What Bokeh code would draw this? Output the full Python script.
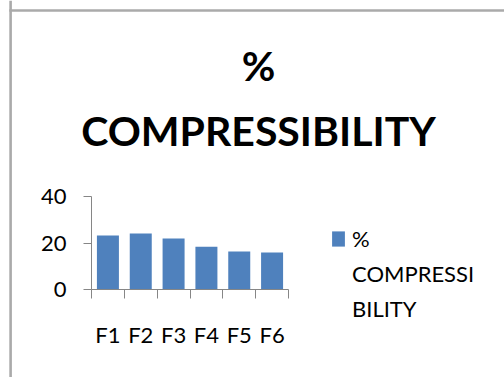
from bokeh.plotting import figure
from bokeh.models import (Range1d, FixedTicker, Legend, LegendItem, Label, BoxAnnotation, Span)
from bokeh.embed import file_html
from bokeh.resources import INLINE

categories = ["F1", "F2", "F3", "F4", "F5", "F6"]
values = [23.2, 24.1, 21.9, 18.4, 16.3, 15.9]
y_ticks = [0, 20, 40]
title_lines = ["%", "COMPRESSIBILITY"]
legend_lines = ["%", "COMPRESSI", "BILITY"]

FONT = "Lato"
BAR = "#4F81BD"
AXIS = "#868686"
FRAME = "#AAAAAA"

W, H = 504, 377
X0PX, XSCALE = 91, 197 / 6      # pixel of x=0, pixels per category
Y0PX, YSCALE = 289, 93 / 40     # pixel of y=0, pixels per unit

p = figure(width=W, height=H, output_backend="svg", toolbar_location=None,
           x_range=Range1d(-X0PX / XSCALE, (W - X0PX) / XSCALE),
           y_range=Range1d(-(H - Y0PX) / YSCALE, Y0PX / YSCALE),
           min_border_left=0, min_border_right=0, min_border_top=0, min_border_bottom=0,
           title=None)
p.outline_line_color = None
p.grid.grid_line_color = None
p.background_fill_color = "white"
p.border_fill_color = "white"

xs = [i + 0.5 for i in range(len(categories))]
r = p.vbar(x=xs, top=values, width=0.67, fill_color=BAR, line_color=None)
blank = p.vbar(x=[], top=[], width=0.67, fill_alpha=0, line_alpha=0)

xa = p.xaxis[0]
xa.fixed_location = 0
xa.bounds = (0, len(categories))
xa.ticker = FixedTicker(ticks=xs, minor_ticks=list(range(len(categories) + 1)))
xa.major_label_overrides = {x: c for x, c in zip(xs, categories)}
xa.major_tick_line_color = None
xa.major_tick_out = 0
xa.major_tick_in = 0
xa.minor_tick_line_color = AXIS
xa.minor_tick_out = 9
xa.minor_tick_in = 0
xa.axis_line_color = AXIS
xa.major_label_standoff = 22
xa.major_label_text_font = FONT
xa.major_label_text_font_size = "22px"
xa.major_label_text_color = "black"

ya = p.yaxis[0]
ya.fixed_location = 0
ya.bounds = (0, 40)
ya.ticker = FixedTicker(ticks=y_ticks, minor_ticks=[])
ya.major_tick_line_color = AXIS
ya.major_tick_out = 8
ya.major_tick_in = 0
ya.axis_line_color = AXIS
ya.major_label_standoff = 17
ya.major_label_text_font = FONT
ya.major_label_text_font_size = "22px"
ya.major_label_text_color = "black"

# outer chart border (top and left edges visible), kept inside the canvas
p.add_layout(BoxAnnotation(left=8.8, right=W, top=H - 8.7, bottom=H - 11.3,
                           left_units="screen", right_units="screen",
                           top_units="screen", bottom_units="screen",
                           fill_color=FRAME, fill_alpha=1, line_color=None))
p.add_layout(Span(location=10.1, dimension="height", location_units="screen",
                  line_color=FRAME, line_width=2.6))

# two-line title
for txt, base in zip(title_lines, [65, 130]):
    p.add_layout(Label(x=258, y=H - base, x_units="screen", y_units="screen", text=txt,
                       text_font=FONT, text_font_style="bold", text_font_size="41px",
                       text_color="black", text_align="center", text_baseline="alphabetic"))

items = [LegendItem(label=legend_lines[0], renderers=[r]),
         LegendItem(label=legend_lines[1], renderers=[blank]),
         LegendItem(label=legend_lines[2], renderers=[blank])]
legend = Legend(items=items, location=(330, 55), glyph_width=16, glyph_height=19,
                padding=0, margin=0, spacing=8, label_height=22,
                label_standoff=6, label_text_font=FONT, label_text_font_size="22px",
                label_text_color="black",
                border_line_color=None, background_fill_alpha=0)
p.add_layout(legend, "center")

open("out.html", "w").write(file_html(p, INLINE))
